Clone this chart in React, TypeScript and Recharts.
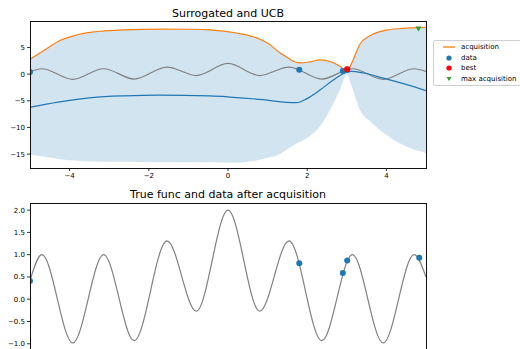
import React from 'react';
import { ComposedChart, Line, Area, Scatter, XAxis, YAxis } from 'recharts';

// surrogate (top panel)
const acqX = [-5, -4.62, -4.29, -3.86, -3.44, -2.6, -1.76, -0.9, -0.45, 0.22, 0.64, 1.06, 1.31, 1.48, 1.65, 1.82, 2.07, 2.32, 2.58, 2.83, 3.0, 3.12, 3.33, 3.59, 4.0, 4.4, 5];
const acqUpper = [2.8, 4.55, 6.1, 7.25, 7.85, 8.3, 8.42, 8.4, 8.3, 7.7, 7.0, 5.5, 4.0, 3.2, 2.4, 2.1, 2.3, 2.65, 2.35, 1.45, 0.5, 2.0, 5.6, 7.2, 8.25, 8.55, 8.75];
const acqLower = [-15.1, -15.5, -15.9, -16.2, -16.4, -16.45, -16.5, -16.5, -16.5, -16.6, -16.3, -15.6, -15.0, -14.2, -13.4, -12.7, -11.6, -9.8, -6.7, -2.9, -0.1, -2.2, -6.7, -8.9, -11.4, -13.2, -14.8];

const meanX = [-5, -4.29, -3.44, -2.6, -1.76, -0.45, 0.05, 0.89, 1.48, 1.73, 1.99, 2.32, 2.66, 2.95, 3.12, 3.42, 3.92, 4.43, 5];
const meanY = [-6.2, -5.25, -4.4, -4.07, -3.95, -4.1, -4.3, -4.8, -5.3, -5.35, -4.6, -3.0, -1.1, 0.2, 0.5, 0.2, -0.75, -1.8, -3.1];

// true function (read at its peaks and troughs)
const trueX = [-5, -4.7, -3.92, -3.14, -2.37, -1.54, -0.8, 0, 0.8, 1.54, 2.37, 3.14, 3.92, 4.7, 5];
const trueY = [0.42, 1.0, -0.98, 1.0, -0.93, 1.31, -0.27, 2.0, -0.27, 1.31, -0.93, 1.0, -0.98, 1.0, 0.5];

// observations
const obsX = [-5, 1.8, 2.9, 3.01];
const obsY = [0.41, 0.81, 0.59, 0.87];
const bestX = [3.01];
const bestY = [0.9];
const maxAcqX = [4.81];
const maxAcqY = [8.44];
const newObsX = [4.83];
const newObsY = [0.93];

const xTicks = [-4, -2, 0, 2, 4];
const topYTicks = [-15, -10, -5, 0, 5];
const bottomYTicks = [-1, -0.5, 0, 0.5, 1, 1.5, 2];

const C0 = '#1f77b4';
const C1 = '#ff7f0e';
const C2 = '#2ca02c';
const RED = '#ff0000';
const GRAY = '#808080';
const FONT = '"DejaVu Sans", sans-serif';

const rows = (xs: number[], ys: number[]) => xs.map((x, i) => ({ x, y: ys[i] }));
const bandRows = acqX.map((x, i) => ({ x, lo: acqLower[i], hi: acqUpper[i] }));
const trueRows = rows(trueX, trueY);
const meanRows = rows(meanX, meanY);
const obsRows = rows(obsX, obsY);
const allObsRows = rows([...obsX, ...newObsX], [...obsY, ...newObsY]);
const bestRows = rows(bestX, bestY);
const maxRows = rows(maxAcqX, maxAcqY);

const minus = (s: string) => s.replace('-', '\u2212');

const dot = (color: string) => (p: any) => <circle cx={p.cx} cy={p.cy} r={3} fill={color} />;
const triDown = (p: any) => (
  <polygon
    points={`${p.cx - 3},${p.cy - 2.5} ${p.cx + 3},${p.cy - 2.5} ${p.cx},${p.cy + 2.5}`}
    fill={C2}
  />
);

const legendItems = [
  { label: 'acquisition', kind: 'line', color: C1 },
  { label: 'data', kind: 'dot', color: C0 },
  { label: 'best', kind: 'dot', color: RED },
  { label: 'max acquisition', kind: 'tri', color: C2 },
];

const tickStyle = { fontSize: 7, fill: '#000', fontFamily: FONT };
const axisCommon = {
  axisLine: false,
  tickLine: { stroke: '#000', strokeWidth: 0.8 },
  tickSize: 3,
  tickMargin: 2,
  tick: tickStyle,
  interval: 0 as const,
};

const Frame: React.FC<{ top: number }> = ({ top }) => (
  <div
    style={{
      position: 'absolute', left: 30, top, width: 397, height: 148,
      border: '1px solid #111', boxSizing: 'border-box', pointerEvents: 'none',
    }}
  />
);

const Title: React.FC<{ top: number; text: string }> = ({ top, text }) => (
  <div
    style={{
      position: 'absolute', left: 30, width: 396, top, textAlign: 'center',
      fontFamily: FONT, fontSize: 11, lineHeight: '13px', color: '#000',
    }}
  >
    {text}
  </div>
);

const LegendBox = () => (
  <div
    style={{
      position: 'absolute', left: 433, top: 40, width: 92, height: 46,
      border: '1px solid #d0d0d0', borderRadius: 2, background: '#fff',
      boxSizing: 'border-box', fontFamily: FONT, fontSize: 7,
    }}
  >
    {legendItems.map((it) => (
      <div key={it.label} style={{ display: 'flex', alignItems: 'center', height: 10.7, marginTop: it.label === 'acquisition' ? 0.5 : 0 }}>
        <svg width={27} height={10} style={{ flex: 'none' }}>
          {it.kind === 'line' && <line x1={9} x2={21} y1={5} y2={5} stroke={it.color} strokeWidth={1.3} />}
          {it.kind === 'dot' && <circle cx={15} cy={5} r={2.6} fill={it.color} />}
          {it.kind === 'tri' && <polygon points="12.5,3 17.5,3 15,7" fill={it.color} />}
        </svg>
        <span style={{ color: '#000', whiteSpace: 'nowrap' }}>{it.label}</span>
      </div>
    ))}
  </div>
);

const App: React.FC = () => {
  const margin = { top: 21, right: 94, bottom: 0, left: 0 };
  return (
    <div style={{ position: 'absolute', left: 0, top: 0, width: 520, height: 349, overflow: 'hidden', background: '#fff' }}>
      <Title top={6.5} text="Surrogated and UCB" />
      <div style={{ position: 'absolute', left: 0, top: 0 }}>
        <ComposedChart width={520} height={188} margin={margin}>
          <XAxis type="number" dataKey="x" domain={[-5, 5]} ticks={xTicks} height={20}
            allowDataOverflow tickFormatter={(v: number) => minus(String(v))} {...axisCommon} />
          <YAxis type="number" domain={[-17.6, 9.95]} ticks={topYTicks} width={30}
            allowDataOverflow tickFormatter={(v: number) => minus(String(v))} {...axisCommon} />
          <Area data={bandRows} dataKey={(d: any) => [d.lo, d.hi]} type="monotone" stroke="none"
            fill={C0} fillOpacity={0.2} isAnimationActive={false} activeDot={false} />
          <Line data={trueRows} dataKey="y" type="monotone" stroke={GRAY} strokeWidth={1.2}
            dot={false} activeDot={false} isAnimationActive={false} />
          <Line data={meanRows} dataKey="y" type="monotone" stroke={C0} strokeWidth={1.2}
            dot={false} activeDot={false} isAnimationActive={false} />
          <Line data={bandRows} dataKey="hi" type="monotone" stroke={C1} strokeWidth={1.2}
            dot={false} activeDot={false} isAnimationActive={false} />
          <Scatter data={obsRows} dataKey="y" shape={dot(C0)} isAnimationActive={false} />
          <Scatter data={bestRows} dataKey="y" shape={dot(RED)} isAnimationActive={false} />
          <Scatter data={maxRows} dataKey="y" shape={triDown} isAnimationActive={false} />
        </ComposedChart>
      </div>
      <Frame top={21} />
      <LegendBox />

      <Title top={187.5} text="True func and data after acquisition" />
      <div style={{ position: 'absolute', left: 0, top: 182 }}>
        <ComposedChart width={520} height={188} margin={margin}>
          {/* x tick labels of this panel fall below the visible area */}
          <XAxis type="number" dataKey="x" domain={[-5, 5]} ticks={xTicks} height={20}
            allowDataOverflow axisLine={false} tick={false} tickLine={false} />
          <YAxis type="number" domain={[-1.14, 2.16]} ticks={bottomYTicks} width={30}
            allowDataOverflow tickFormatter={(v: number) => minus(v.toFixed(1))} {...axisCommon} />
          <Line data={trueRows} dataKey="y" type="monotone" stroke={GRAY} strokeWidth={1.2}
            dot={false} activeDot={false} isAnimationActive={false} />
          <Scatter data={allObsRows} dataKey="y" shape={dot(C0)} isAnimationActive={false} />
        </ComposedChart>
      </div>
      <Frame top={203} />
    </div>
  );
};

export default App;
